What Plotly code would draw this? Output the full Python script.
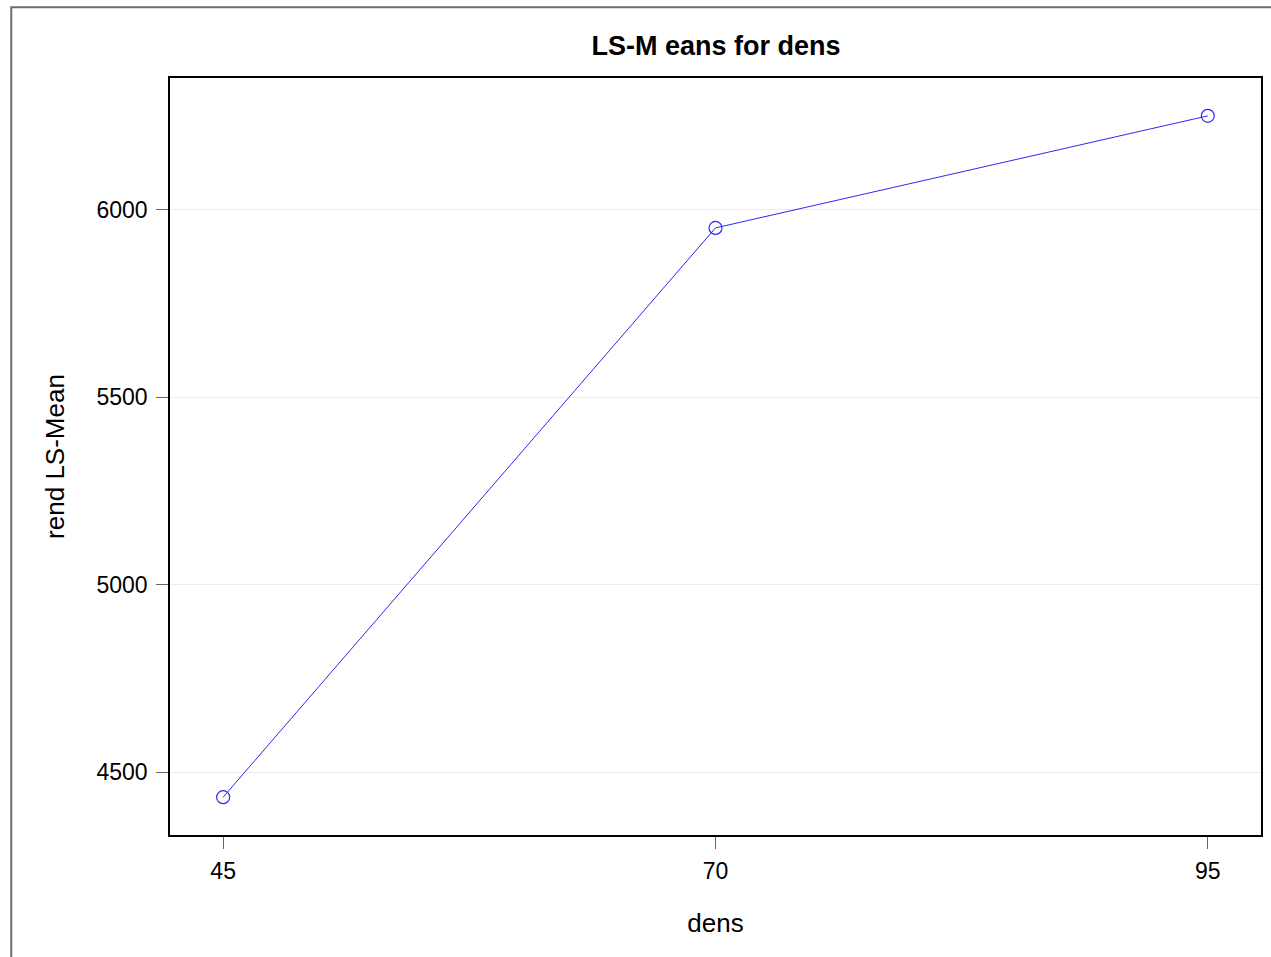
import plotly.graph_objects as go

# LS-means of rend by density level
dens = [45, 70, 95]
rend_lsmean = [4433, 5952, 6251]

y_ticks = [4500, 5000, 5500, 6000]
x_ticks = [45, 70, 95]

FONT = "Liberation Sans, Arial, sans-serif"

fig = go.Figure()
fig.add_trace(go.Scatter(
    x=dens,
    y=rend_lsmean,
    mode="lines+markers",
    line=dict(color="#2a2af0", width=1),
    marker=dict(symbol="circle-open", size=13, color="#2a2af0", line=dict(width=1.2)),
    showlegend=False,
    hoverinfo="x+y",
))

# outer frame around the graph region
fig.add_shape(type="rect", xref="paper", yref="paper",
              x0=-0.1455, x1=1.2, y0=-0.3, y1=1.0935,
              line=dict(color="#6e6e6e", width=2), fillcolor="rgba(0,0,0,0)",
              layer="below")

fig.update_layout(
    width=1271, height=957,
    margin=dict(l=170, r=8, t=78, b=122),
    paper_bgcolor="white",
    plot_bgcolor="white",
    font=dict(family=FONT, color="black", size=23),
    title=dict(text="<b>LS-M eans for dens</b>", x=716 / 1271, xanchor="center",
               y=0.952, yanchor="middle", font=dict(size=27, family=FONT)),
    xaxis=dict(
        range=[42.3, 97.7],
        tickvals=x_ticks,
        ticktext=[str(v) for v in x_ticks],
        ticks="outside", ticklen=12, tickwidth=1.2, tickcolor="#666",
        ticklabelstandoff=3,
        showline=True, linecolor="black", linewidth=1.5, mirror=True,
        showgrid=False, zeroline=False,
        tickfont=dict(size=23),
        title=dict(text="dens", font=dict(size=26), standoff=30),
    ),
    yaxis=dict(
        range=[4332, 6352],
        tickvals=y_ticks,
        ticktext=[str(v) for v in y_ticks],
        ticks="outside", ticklen=12, tickwidth=1.2, tickcolor="#666",
        ticklabelstandoff=4,
        showline=True, linecolor="black", linewidth=1.5, mirror=True,
        showgrid=True, gridcolor="#ececec", gridwidth=1, zeroline=False,
        tickfont=dict(size=23),
        title=dict(text="rend LS-Mean", font=dict(size=26), standoff=24),
    ),
)

fig.write_html("out.html")
